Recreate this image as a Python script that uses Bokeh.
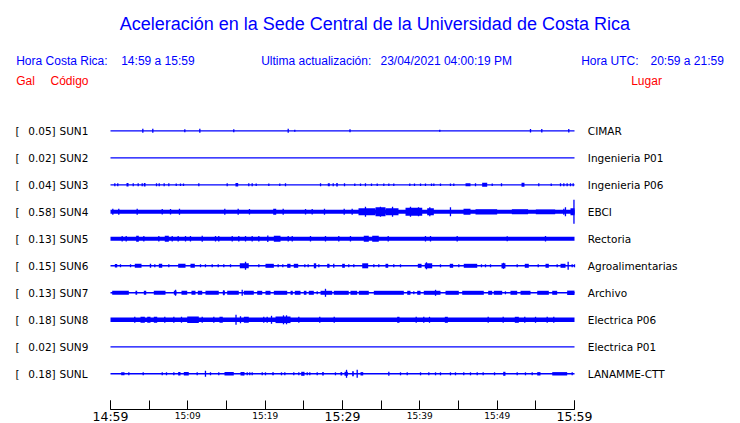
from bokeh.plotting import figure
from bokeh.models import Range1d, LinearAxis, FixedTicker, ColumnDataSource
from bokeh.embed import file_html
from bokeh.resources import INLINE
from bokeh.core.properties import value

# ---------------- data ----------------
# time in minutes after 14:59 (hora Costa Rica)
t_start, t_end = 0.0, 60.0
ticks_big = [0, 30, 60]
ticks_big_labels = ["14:59", "15:29", "15:59"]
ticks_small = [10, 20, 40, 50]
ticks_small_labels = ["15:09", "15:19", "15:39", "15:49"]
ticks_plain = [5, 15, 25, 35, 45, 55]

codes = ["SUN1", "SUN2", "SUN3", "SUN4", "SUN5", "SUN6", "SUN7", "SUN8", "SUN9", "SUNL"]
peaks = ["0.05", "0.02", "0.04", "0.58", "0.13", "0.15", "0.13", "0.18", "0.02", "0.18"]
places = ["CIMAR", "Ingenieria P01", "Ingenieria P06", "EBCI", "Rectoria",
          "Agroalimentarias", "Archivo", "Electrica P06", "Electrica P01", "LANAMME-CTT"]

# background (noise) envelope of each trace, display amplitude units
noise = [0.65, 0.65, 0.65, 2.0, 2.0, 0.7, 0.8, 2.3, 0.65, 0.7]

# short peaks: (minute, amplitude)
spk_sun1 = [(4.18, 2), (5.47, 2), (9.61, 1.5), (11.55, 2), (15.94, 1.5), (22.98, 2), (23.83, 1),
            (30.97, 1.5), (42.58, 1), (54.31, 1.7), (55.77, 1.7), (59.26, 1.7)]
spk_sun2 = []
spk_sun3 = [(0.56, 1.5), (0.94, 1.5), (2.94, 1.5), (3.58, 1.5), (4.10, 1.5), (5.95, 1.5), (6.30, 1.5),
            (6.94, 1.5), (7.54, 1.5), (8.50, 1.3), (9.05, 1.3), (9.44, 1.3), (11.42, 1.5), (15.09, 1.5),
            (17.88, 1.5), (18.32, 1.5), (18.84, 1.3), (20.47, 1.3), (21.89, 1.3), (22.63, 1.5),
            (27.16, 1.5), (28.80, 1.5), (30.26, 1.5), (31.59, 1.3), (32.33, 1.3), (32.97, 1.5),
            (33.75, 1.3), (34.49, 1.3), (35.34, 1.3), (35.99, 1.3), (36.63, 1.3), (38.70, 1.3),
            (39.31, 1.3), (40.09, 1.3), (40.73, 1.3), (41.51, 1.3), (41.81, 1.3), (42.67, 1.3),
            (43.96, 1.3), (44.39, 1.3), (47.20, 1.5), (49.36, 1.3), (50.56, 1.5), (55.38, 1.5),
            (56.99, 1.3), (58.19, 1.5), (58.62, 1.5), (59.05, 1.5), (59.48, 1.5), (59.83, 1.5)]
spk_sun4 = [(0.30, 3), (1.07, 3), (3.45, 3), (6.69, 2.8), (7.76, 2.8), (8.92, 3), (14.78, 3),
            (16.51, 3), (17.97, 2.8), (22.33, 3), (25.22, 2.8), (26.08, 2.8), (27.67, 3), (30.22, 3),
            (31.25, 3), (32.97, 5), (34.91, 5), (36.47, 5), (38.79, 5), (39.83, 4.5), (41.29, 4.5),
            (43.96, 4.5), (58.62, 3), (58.83, 4.5), (59.93, 12)]
spk_sun5 = [(1.51, 2.8), (2.03, 2.8), (4.31, 2.8), (6.25, 2.8), (7.98, 2.8), (8.75, 2.8), (9.70, 2.8),
            (10.34, 2.8), (11.86, 3), (13.58, 2.8), (14.00, 2.8), (15.74, 2.8), (16.59, 2.8),
            (17.46, 2.8), (18.32, 2.8), (19.18, 2.8), (20.34, 3.2), (22.98, 2.8), (23.50, 2.8),
            (25.86, 2.8), (27.80, 2.8), (29.52, 2.8), (31.03, 2.8), (35.91, 2.8), (40.73, 2.8),
            (41.38, 2.8), (44.83, 2.8), (51.30, 2.5), (56.25, 2.8)]
spk_sun6 = [(1.29, 1.5), (2.59, 1.5), (5.73, 1.5), (7.54, 1.5), (11.64, 1.5), (12.28, 1.5),
            (13.15, 1.5), (13.93, 1.5), (14.65, 1.5), (15.52, 1.5), (17.46, 4), (19.18, 1.5),
            (21.68, 1.5), (22.28, 1.5), (25.13, 1.5), (25.56, 1.5), (26.94, 1.5), (28.87, 2),
            (30.81, 1.5), (31.46, 1.5), (34.05, 1.5), (34.69, 1.5), (36.63, 1.5), (37.50, 1.5),
            (40.86, 3.5), (42.67, 1.5), (45.04, 1.5), (47.97, 1.5), (48.49, 1.5), (49.14, 1.5),
            (50.82, 3), (52.59, 1.5), (55.31, 1.5), (57.76, 1.5), (59.18, 4), (59.70, 1.5), (60.0, 1.5)]
spk_sun7 = [(8.41, 3), (14.65, 2.5), (17.03, 3), (26.73, 1.5), (27.80, 4), (39.22, 1.5),
            (42.03, 3), (51.07, 1.5)]
spk_sun8 = [(3.14, 3), (7.02, 3), (8.19, 3), (9.18, 3), (11.86, 3), (13.36, 3), (16.23, 5),
            (16.81, 3.5), (19.82, 3), (20.26, 3), (20.82, 4), (22.37, 4.5), (22.76, 4.5), (24.35, 3),
            (27.06, 3), (28.93, 3), (39.53, 3), (40.51, 3), (41.25, 3), (48.84, 3), (50.78, 3),
            (53.57, 3), (54.96, 3), (56.47, 3), (57.32, 3)]
spk_sun9 = []
spk_sunl = [(2.37, 1.5), (4.23, 1.5), (6.69, 1.5), (7.24, 1.5), (8.19, 1.5), (11.21, 1.5), (12.28, 3),
            (12.93, 1.5), (14.00, 1.5), (17.16, 1.5), (17.68, 1.5), (18.01, 1.5), (18.32, 1.5),
            (19.62, 1.5), (20.04, 1.5), (22.11, 1.5), (22.54, 1.5), (23.70, 1.5), (24.35, 1.5),
            (25.44, 1.5), (25.77, 1.5), (26.73, 1.5), (29.09, 1.5), (30.52, 4), (31.90, 4),
            (35.99, 2), (37.50, 1.5), (38.37, 1.5), (40.09, 1.5), (41.16, 1.5), (42.03, 1.5),
            (42.67, 1.5), (43.96, 1.5), (44.61, 1.5), (45.68, 1.5), (46.55, 1.5), (47.42, 1.5),
            (48.19, 1.5), (49.66, 1.5), (52.59, 1.5), (53.66, 1.5), (54.53, 1.5), (59.70, 1.5)]

# sustained episodes: (minute from, minute to, amplitude)
blk_sun1 = []
blk_sun2 = []
blk_sun3 = [(2.07, 2.33, 1.7), (4.31, 4.53, 1.7), (16.16, 16.51, 1.7), (28.10, 28.36, 1.5),
            (29.19, 29.39, 1.8), (45.91, 46.55, 1.5), (48.06, 48.71, 2), (53.15, 53.53, 2)]
blk_sun4 = [(21.04, 21.43, 3), (32.07, 34.27, 3.5), (34.27, 35.56, 4.5), (35.56, 37.24, 3.5),
            (38.15, 40.31, 4), (40.95, 41.81, 3.5), (45.65, 46.55, 3), (47.2, 50.0, 2.6),
            (51.9, 54.0, 2.5), (55.0, 57.5, 2.4), (59.48, 60.0, 3.5)]
blk_sun5 = [(3.32, 3.66, 3), (7.02, 7.54, 3), (21.12, 21.98, 3), (32.75, 33.40, 3), (33.84, 34.69, 3)]
blk_sun6 = [(0.56, 0.87, 1.8), (3.14, 4.01, 2), (5.08, 5.26, 2), (6.25, 6.69, 2), (8.75, 9.70, 2),
            (10.34, 10.90, 2), (16.72, 17.88, 2.5), (20.04, 21.12, 2), (22.85, 23.28, 2),
            (23.70, 24.27, 2), (26.29, 26.60, 2.5), (28.02, 28.32, 2), (29.96, 30.30, 2),
            (32.55, 33.32, 2.5), (35.56, 35.91, 2), (39.74, 40.22, 2), (40.64, 41.60, 2.5),
            (43.87, 44.31, 2), (45.68, 47.42, 2), (50.56, 51.07, 2.5), (53.57, 54.09, 2),
            (56.25, 56.68, 2), (58.19, 58.84, 2)]
blk_sun7 = [(0.22, 2.37, 2), (3.23, 3.45, 2), (4.31, 4.62, 2), (5.60, 7.11, 2), (8.19, 8.53, 2),
            (9.18, 9.92, 2), (10.47, 10.99, 2), (11.29, 11.86, 2), (12.28, 14.00, 2), (14.52, 14.78, 2),
            (15.09, 16.59, 2), (17.24, 18.53, 2), (18.97, 19.62, 2), (20.04, 20.69, 2), (21.12, 22.85, 2),
            (23.28, 23.57, 2), (23.83, 24.57, 2), (25.00, 25.34, 2), (25.64, 26.29, 2), (27.16, 28.67, 2),
            (28.87, 30.81, 2), (31.03, 31.90, 2), (32.11, 33.40, 2), (34.05, 37.93, 2), (38.37, 38.79, 2),
            (39.66, 40.09, 2), (40.51, 42.67, 2), (43.32, 45.04, 2), (45.48, 48.27, 2), (48.84, 49.36, 2),
            (49.56, 50.65, 2), (51.72, 52.59, 2), (53.02, 54.31, 2), (55.18, 56.68, 2), (57.12, 57.76, 2),
            (59.05, 60.0, 2.2)]
blk_sun8 = [(3.88, 4.44, 3), (4.75, 5.17, 3), (5.60, 6.04, 3), (9.92, 11.42, 3.3), (14.09, 14.52, 3),
            (17.24, 17.88, 3), (21.34, 23.28, 3.3), (37.07, 37.37, 3), (43.23, 43.62, 3), (52.28, 52.80, 3)]
blk_sun9 = []
blk_sunl = [(1.38, 1.81, 1.5), (8.75, 9.05, 1.7), (9.48, 10.12, 1.7), (14.74, 15.94, 1.7),
            (16.81, 17.33, 1.7), (20.91, 21.12, 1.5), (24.66, 25.09, 2), (27.37, 27.58, 1.7),
            (29.74, 29.96, 1.7), (30.26, 30.69, 2), (31.25, 31.46, 2.5), (32.33, 32.68, 1.7),
            (50.78, 51.07, 2), (55.18, 55.60, 1.7), (57.12, 59.05, 1.7)]

spikes = [spk_sun1, spk_sun2, spk_sun3, spk_sun4, spk_sun5, spk_sun6, spk_sun7, spk_sun8, spk_sun9, spk_sunl]
blocks = [blk_sun1, blk_sun2, blk_sun3, blk_sun4, blk_sun5, blk_sun6, blk_sun7, blk_sun8, blk_sun9, blk_sunl]

# ---------------- layout ----------------
W, H = 740, 423
PX_PER_MIN = 464.0 / 60.0
X0 = 110.0                      # pixel of minute 0
ROW0, ROW_STEP = 130.3, 27.0    # pixel rows of the traces
AXIS_Y = 408.5
BLUE = "#0000ff"
RED = "#ff0000"

x_lo = -X0 / PX_PER_MIN
x_hi = x_lo + W / PX_PER_MIN

p = figure(width=W, height=H, x_range=Range1d(x_lo, x_hi), y_range=Range1d(H, 0),
           x_axis_type=None, y_axis_type=None, toolbar_location=None,
           output_backend="svg", min_border=0, outline_line_color=None)
p.background_fill_color = "white"
p.border_fill_color = "white"
p.extra_x_ranges = {"px": Range1d(0, W)}

rows = [ROW0 + ROW_STEP * i for i in range(len(codes))]

# traces
base = ColumnDataSource(dict(left=[t_start] * len(rows), right=[t_end] * len(rows),
                             bottom=[r + max(n, 0.55) for r, n in zip(rows, noise)],
                             top=[r - max(n, 0.55) for r, n in zip(rows, noise)]))
p.quad(left="left", right="right", bottom="bottom", top="top", source=base,
       fill_color=BLUE, line_color=None)

bl, br, bb, bt = [], [], [], []
for r, blist in zip(rows, blocks):
    for a, b, h in blist:
        bl.append(a); br.append(b); bb.append(r + h); bt.append(r - h)
p.quad(left=bl, right=br, bottom=bb, top=bt, fill_color=BLUE, line_color=None)

sx, sy0, sy1 = [], [], []
for r, slist in zip(rows, spikes):
    for t, h in slist:
        sx.append(t); sy0.append(r - h); sy1.append(r + h)
p.segment(x0=sx, y0=sy0, x1=sx, y1=sy1, line_color=BLUE, line_width=1.3)

# header texts
hdr_font = value("Liberation Sans")
p.text(x=[374.3], y=[23], text=["Aceleración en la Sede Central de la Universidad de Costa Rica"],
       x_range_name="px", text_font=hdr_font, text_font_size="18px", text_color=BLUE,
       text_align="center", text_baseline="middle")
p.text(x=[15.7, 120.7, 260.7, 380, 580.7, 650],
       y=[60.3] * 6,
       text=["Hora Costa Rica:", "14:59 a 15:59", "Ultima actualización:",
             "23/04/2021 04:00:19 PM", "Hora UTC:", "20:59 a 21:59"],
       x_range_name="px", text_font=hdr_font, text_font_size="12px", text_color=BLUE,
       text_baseline="middle")
p.text(x=[15.7, 50, 630.7], y=[80.3] * 3, text=["Gal", "Código", "Lugar"],
       x_range_name="px", text_font=hdr_font, text_font_size="12px", text_color=RED,
       text_baseline="middle")

# station labels
lab_font = value("DejaVu Sans")
lab_y = [r + 0.3 for r in rows]
p.text(x=[15.0] * len(rows), y=lab_y, text=["["] * len(rows), x_range_name="px",
       text_font=lab_font, text_font_size="10.5px", text_color="black", text_baseline="middle")
p.text(x=[27.7] * len(rows), y=lab_y, text=[v + "]" for v in peaks], x_range_name="px",
       text_font=lab_font, text_font_size="10.5px", text_color="black", text_baseline="middle")
p.text(x=[59.0] * len(rows), y=lab_y, text=codes, x_range_name="px",
       text_font=lab_font, text_font_size="10.5px", text_color="black", text_baseline="middle")
p.text(x=[587.3] * len(rows), y=lab_y, text=places, x_range_name="px",
       text_font=lab_font, text_font_size="10.5px", text_color="black", text_baseline="middle")

# time axis (two axes at the same place: small and large labels)
ax_small = LinearAxis(fixed_location=AXIS_Y, bounds=(t_start, t_end),
                      ticker=FixedTicker(ticks=ticks_small, minor_ticks=ticks_plain + ticks_big),
                      major_label_overrides={t: s for t, s in zip(ticks_small, ticks_small_labels)},
                      major_tick_in=9, major_tick_out=0, minor_tick_in=9, minor_tick_out=0,
                      major_label_standoff=2, major_label_text_font_size="9px",
                      major_label_text_font="DejaVu Sans", major_label_text_color="black",
                      axis_line_color="black", major_tick_line_color="black",
                      minor_tick_line_color="black")
ax_big = LinearAxis(fixed_location=AXIS_Y, bounds=(t_start, t_end),
                    ticker=FixedTicker(ticks=ticks_big),
                    major_label_overrides={t: s for t, s in zip(ticks_big, ticks_big_labels)},
                    major_tick_in=9, major_tick_out=0, minor_tick_line_color=None,
                    major_label_standoff=0, major_label_text_font_size="12.5px",
                    major_label_text_font="DejaVu Sans", major_label_text_color="black",
                    axis_line_color=None, major_tick_line_color="black")
p.add_layout(ax_small, "below")
p.add_layout(ax_big, "below")

open("out.html", "w").write(file_html(p, INLINE))
